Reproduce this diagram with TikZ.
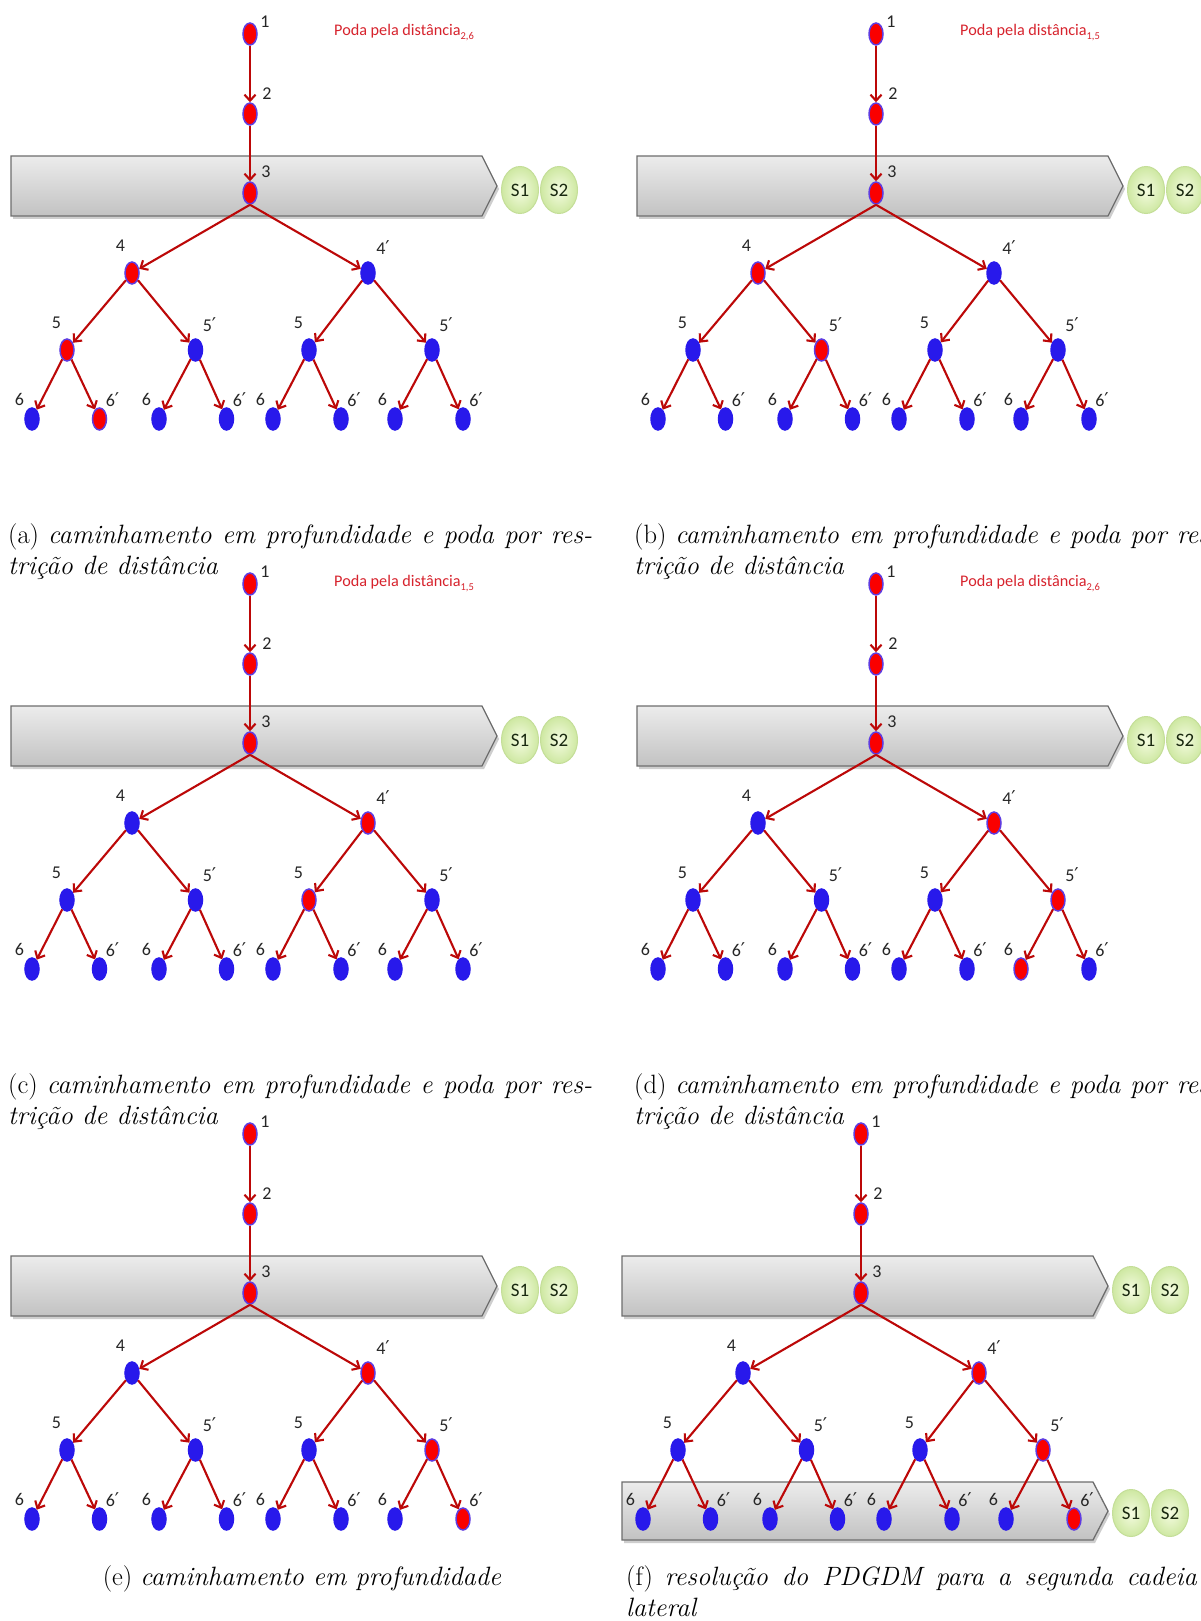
\documentclass[tikz,border=0pt]{standalone}
\usepackage{fontspec}
\newfontfamily\calfont{Carlito}
\newfontfamily\djvfont{DejaVu Sans}
\usetikzlibrary{arrows.meta,shapes.geometric}
\definecolor{nred}{RGB}{250,0,0}
\definecolor{nblue}{RGB}{40,25,235}
\definecolor{nborder}{RGB}{95,60,225}
\definecolor{ered}{RGB}{188,8,8}
\definecolor{ttl}{RGB}{215,35,45}
\definecolor{bantop}{RGB}{236,236,236}
\definecolor{banbot}{RGB}{194,194,194}
\definecolor{banedge}{RGB}{110,110,110}
\definecolor{sin}{RGB}{244,251,224}
\definecolor{sout}{RGB}{206,232,162}
\definecolor{sedge}{RGB}{196,222,152}
\definecolor{stext}{RGB}{25,40,15}
\newcommand\pr{{\djvfont\fontsize{19}{19}\selectfont ′}}
\tikzset{
  nd/.style={ellipse, minimum width=14pt, minimum height=22pt, inner sep=0pt, line width=1.5pt},
  rn/.style={nd, fill=nred, draw=nborder},
  bn/.style={nd, fill=nblue, draw=nblue},
  s1/.style={rn}, s2/.style={rn}, s3/.style={rn},
  s4/.style={bn}, s4p/.style={bn},
  s5a/.style={bn}, s5b/.style={bn}, s5c/.style={bn}, s5d/.style={bn},
  s6a/.style={bn}, s6b/.style={bn}, s6c/.style={bn}, s6d/.style={bn},
  s6e/.style={bn}, s6f/.style={bn}, s6g/.style={bn}, s6h/.style={bn},
  redge/.style={draw=ered, line width=2.1pt, -{Straight Barb[length=6pt,width=11pt]}},
  lbl/.style={font=\calfont\fontsize{18}{18}\selectfont, text=black!85, inner sep=0pt},
  snode/.style={ellipse, minimum width=37pt, minimum height=47pt, inner sep=0pt,
    inner color=sin, outer color=sout, draw=sedge, line width=1pt,
    font=\calfont\fontsize{19}{19}\selectfont, text=stext},
  ttlnode/.style={font=\calfont\fontsize{16.2}{16.2}\selectfont, text=ttl, inner sep=0pt, anchor=base west},
  captxt/.style={inner sep=0pt, anchor=base west, font=\fontsize{26.5}{32}\selectfont},
}
% banner: #1 top y, #2 bottom y
\newcommand\drawbanner[2]{%
  \fill[black!35, opacity=0.55] (13,#1+3) -- (484,#1+3) -- (499,{(#1+#2)/2+3}) -- (484,#2+3) -- (13,#2+3) -- cycle;
  \shade[top color=bantop, bottom color=banbot, draw=banedge, line width=1.3pt]
    (11,#1) -- (482,#1) -- (497,{(#1+#2)/2}) -- (482,#2) -- (11,#2) -- cycle;
}
% S1/S2 pair: #1 prefix, #2 y
\newcommand\drawsols[2]{%
  \node[snode] (#1s1) at (520,#2) {S1};
  \node[snode] (#1s2) at (559,#2) {S2};
}
% the tree: #1 prefix
\newcommand\drawtree[1]{%
  \node[s1] (#1n1) at (250,34) {};
  \node[s2] (#1n2) at (250,114) {};
  \node[s3] (#1n3) at (250,193) {};
  \node[s4] (#1n4) at (132,273) {};
  \node[s4p] (#1n4p) at (368,273) {};
  \node[s5a] (#1n5a) at (67,350) {};
  \node[s5b] (#1n5b) at (195.5,350) {};
  \node[s5c] (#1n5c) at (309,350) {};
  \node[s5d] (#1n5d) at (432,350) {};
  \node[s6a] (#1n6a) at (32,419) {};
  \node[s6b] (#1n6b) at (99.5,419) {};
  \node[s6c] (#1n6c) at (159,419) {};
  \node[s6d] (#1n6d) at (226.5,419) {};
  \node[s6e] (#1n6e) at (273,419) {};
  \node[s6f] (#1n6f) at (341,419) {};
  \node[s6g] (#1n6g) at (395,419) {};
  \node[s6h] (#1n6h) at (463,419) {};
  \draw[redge] (#1n1) -- (#1n2);
  \draw[redge] (#1n2) -- (#1n3);
  \draw[redge] (#1n3.south) -- (#1n4);
  \draw[redge] (#1n3.south) -- (#1n4p);
  \draw[redge] (#1n4) -- (#1n5a);
  \draw[redge] (#1n4) -- (#1n5b);
  \draw[redge] (#1n4p) -- (#1n5c);
  \draw[redge] (#1n4p) -- (#1n5d);
  \draw[redge] (#1n5a) -- (#1n6a);
  \draw[redge] (#1n5a) -- (#1n6b);
  \draw[redge] (#1n5b) -- (#1n6c);
  \draw[redge] (#1n5b) -- (#1n6d);
  \draw[redge] (#1n5c) -- (#1n6e);
  \draw[redge] (#1n5c) -- (#1n6f);
  \draw[redge] (#1n5d) -- (#1n6g);
  \draw[redge] (#1n5d) -- (#1n6h);
  \node[lbl] (#1l1) at (265,22) {1};
  \node[lbl] (#1l2) at (267,94) {2};
  \node[lbl] (#1l3) at (266,172) {3};
  \node[lbl] (#1l4) at (120.5,246) {4};
  \node[lbl] (#1l4p) at (383,248) {4\pr};
  \node[lbl] (#1l5a) at (56.5,323) {5};
  \node[lbl] (#1l5b) at (209.5,325) {5\pr};
  \node[lbl] (#1l5c) at (298.5,323) {5};
  \node[lbl] (#1l5d) at (446,325) {5\pr};
  \node[lbl] (#1l6a) at (19.5,399.5) {6};
  \node[lbl] (#1l6b) at (112.5,400) {6\pr};
  \node[lbl] (#1l6c) at (146.5,399.5) {6};
  \node[lbl] (#1l6d) at (239.5,400) {6\pr};
  \node[lbl] (#1l6e) at (260.5,399.5) {6};
  \node[lbl] (#1l6f) at (354,400) {6\pr};
  \node[lbl] (#1l6g) at (382.5,399.5) {6};
  \node[lbl] (#1l6h) at (476,400) {6\pr};
}
\newcommand\drawtitle[2]{%
  \node[ttlnode] (#1t) at (334,36) {Poda pela distância\raisebox{-4pt}{\fontsize{10.5}{10.5}\selectfont #2}};
}
\begin{document}
\begin{tikzpicture}[x=1pt,y=-1pt]
\useasboundingbox (0,0) rectangle (1201,1621);
\clip (0,0) rectangle (1201,1621);
\fill[white] (0,0) rectangle (1201,1621);
% (a)
\begin{scope}[s4/.style={rn}, s5a/.style={rn}, s6b/.style={rn}]
  \drawbanner{156}{216}
  \drawsols{a}{190}
  \drawtree{a}
  \drawtitle{a}{2,6}
\end{scope}
% (b)
\begin{scope}[shift={(626,0)}, s4/.style={rn}, s5b/.style={rn}]
  \drawbanner{156}{216}
  \drawsols{b}{190}
  \drawtree{b}
  \drawtitle{b}{1,5}
\end{scope}
% (c)
\begin{scope}[shift={(0,550)}, s4p/.style={rn}, s5c/.style={rn}]
  \drawbanner{156}{216}
  \drawsols{c}{190}
  \drawtree{c}
  \drawtitle{c}{1,5}
\end{scope}
% (d)
\begin{scope}[shift={(626,550)}, s4p/.style={rn}, s5d/.style={rn}, s6g/.style={rn}]
  \drawbanner{156}{216}
  \drawsols{d}{190}
  \drawtree{d}
  \drawtitle{d}{2,6}
\end{scope}
% (e)
\begin{scope}[shift={(0,1100)}, s4p/.style={rn}, s5d/.style={rn}, s6h/.style={rn}]
  \drawbanner{156}{216}
  \drawsols{e}{190}
  \drawtree{e}
\end{scope}
% (f)
\begin{scope}[shift={(611,1100)}, s4p/.style={rn}, s5d/.style={rn}, s6h/.style={rn}]
  \drawbanner{156}{216}
  \drawsols{f}{190}
  \drawbanner{382}{440}
  \drawsols{g}{413}
  \drawtree{f}
\end{scope}
% captions
\node[captxt] (capa1) at (8,543) {\makebox[584pt][s]{(a) \textit{caminhamento em profundidade e poda por res-}}};
\node[captxt] (capa2) at (8,574) {\textit{trição de distância}};
\node[captxt] (capb1) at (634,543) {\makebox[584pt][s]{(b) \textit{caminhamento em profundidade e poda por res-}}};
\node[captxt] (capb2) at (634,574) {\textit{trição de distância}};
\node[captxt] (capc1) at (8,1093) {\makebox[584pt][s]{(c) \textit{caminhamento em profundidade e poda por res-}}};
\node[captxt] (capc2) at (8,1124) {\textit{trição de distância}};
\node[captxt] (capd1) at (634,1093) {\makebox[584pt][s]{(d) \textit{caminhamento em profundidade e poda por res-}}};
\node[captxt] (capd2) at (634,1124) {\textit{trição de distância}};
\node[captxt, anchor=base] (cape1) at (302,1585) {(e) \textit{caminhamento em profundidade}};
\node[captxt] (capf1) at (626,1585) {\makebox[571pt][s]{(f) \textit{resolução do PDGDM para a segunda cadeia}}};
\node[captxt] (capf2) at (626,1616) {\textit{lateral}};
\end{tikzpicture}
\end{document}
